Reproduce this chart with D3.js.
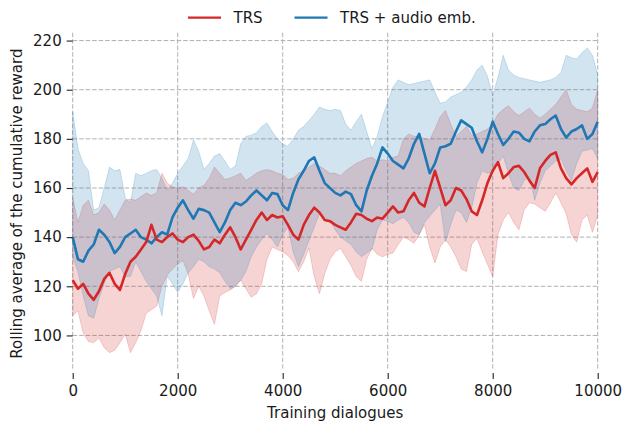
<!DOCTYPE html>
<html>
<head>
<meta charset="utf-8">
<script src="https://cdn.jsdelivr.net/npm/d3@7"></script>
<style>
  body { margin: 0; background: #fff; }
  svg text { font-family: "DejaVu Sans", sans-serif; fill: #1a1a1a; }
</style>
</head>
<body>
<div id="chart"></div>
<script>
// x positions: one reading every 100 training dialogues
const dialogues = d3.range(0, 10001, 100);

const trsMean = [
  122.5,119,121,117,114.5,118,123,125.5,121,118.5,
  125,130,132,135,138,145,139,138,140,141.5,
  139,138,140,141,138.5,135,136,139,137.5,141,
  144,140,135,139,143,147,150,147,149,148,
  148.5,145,141,139,145,149,152,150,147,146.5,
  145,144,143,146,149.5,149,147.5,146.5,148,147.5,
  150,152.5,150,150.5,155,158,154,152.5,160,167,
  160,153,155,160,159,155.5,150.5,149,155,162,
  167,170.5,164,166,168.5,169,166.5,163,160,168,
  171,173.5,174.5,168,164,161.5,164,166,168,162.5,
  166.5
];
const trsUpper = [
  156,146,153,155,149,150,153.5,151,147,151,
  155,155.5,155,156.5,158,157,158,166,162,160.5,
  160,160.5,159,157.5,160,161,164,168.5,166,163.5,
  164,165,166,163,164.5,166,167,167.5,167,166,
  165.5,163.5,164,166,167,168.5,170,169,167.5,166,
  166,165,167,168.5,170,171,172,172.5,171,171.5,
  171,172.5,173,180,182,181,181,180,179.5,184,
  189,191.5,186,181,183,185,181.5,182,183,184,
  186,190,192,193.5,191,189.5,191,192.5,190,188.5,
  190,192,194,197,200,194,192,191.5,191,192.5,
  200
];
const trsLower = [
  108,110,101,97.5,97,99,95,93,94,97,
  100.5,93,97,102,109,110.5,112,120,124.5,127,
  129,130.5,125,115,120,116,110,104.5,116,117.5,
  118.5,120,122.5,119,115.5,117,121,131,136,135,
  134,132.5,130,126,130,135.5,124,117,125,131,
  134,135.5,132,128.5,124,122,131,135.5,133,132,
  133,133.5,137,140,139,137.5,141,145,136,129.5,
  136,139,136,132,127,126,137,139.5,134,129,
  124,141,147,150,146,143,151,154,153.5,152,
  150.5,154,158,154,149.5,141,138,147,149,142,
  149
];

const audioMean = [
  140,131,130,134.5,137,143,141,138,133.5,136,
  140,141.5,143,140,139,137.5,140,142,141,148,
  152,155,151,147.5,151.5,151,150,146,142,146,
  151,154,153,154.5,157,159,157,155,158,157.5,
  153,151,158,163.5,167,171,172.5,167,162,160,
  158,157,158.5,157.5,153,150.5,159,165,170,176.5,
  174,171,169.5,168,172,178,182,174,166,170,
  176.5,177,178,183,187.5,186,184.5,179,174.5,180,
  187,182,177.5,180,183,182.5,180,179,183,185.5,
  186,188,189.5,184,180.5,183,184,185.5,180,182,
  187
];
const audioUpper = [
  191,176,170,167,151,152,160,168.5,167,167.5,
  156,154,166,165,166,167,167.5,164,159,162,
  166,169,172,179.5,175,167.5,170,173,174,171,
  167.5,169,178,181,181.5,182.5,185,186.5,183,180,
  178,177,180,183.5,185,187.5,190,193,192,191.5,
  192,191.5,186,183.5,187,190,183,176,181,189,
  195,201,204,203,202,202.5,203,203.5,204,199,
  194.5,195,197,198,199,201,204,208,210,205.5,
  197.5,205,214,208,206,205,204.5,204,203.5,203,
  203.5,204,205,207,214,213,212.5,215,217,214,
  206
];
const audioLower = [
  132,126,116,108,107,115,121,126,127,128,
  124,124,130,126,122,119,116,108,124,121,
  117.5,121,125.5,128,131,130,128,127,125.5,122,
  119,120,122.5,126,132,136,139,141.5,139,136,
  141,144,134,128,133,138.5,144,149.5,148,147,
  143,140,138.5,137,134,132,133.5,135,143,147,
  146.5,145.5,147,148,146,142,141,146,148.5,151,
  153.5,138,145,151,150,146,152,162,167,166,
  166.5,170,173,166,160,159,163,165,155,162,
  167,169,171,172,167,163,170,175,175.5,176,
  172
];

const xTicks = [0, 2000, 4000, 6000, 8000, 10000];
const yTicks = [100, 120, 140, 160, 180, 200, 220];

const seriesNames = ['TRS', 'TRS + audio emb.'];
const seriesColors = ['#d62728', '#1f77b4'];

const width = 624, height = 423;
const plotLeft = 72.7, plotRight = 597.7, plotTop = 32.7, plotBottom = 368.6;

const svg = d3.select('#chart').append('svg')
  .attr('width', width)
  .attr('height', height);

const x = d3.scaleLinear().domain([0, 10000]).range([plotLeft, plotRight]);
const y = d3.scaleLinear().domain([86.5, 223.2]).range([plotBottom, plotTop]);

// grid
const grid = svg.append('g');
grid.selectAll('line.h').data(yTicks).enter().append('line')
  .attr('class', 'h')
  .attr('x1', plotLeft).attr('x2', plotRight)
  .attr('y1', d => y(d)).attr('y2', d => y(d));
grid.selectAll('line.v').data(xTicks).enter().append('line')
  .attr('class', 'v')
  .attr('x1', d => x(d)).attr('x2', d => x(d))
  .attr('y1', plotTop).attr('y2', plotBottom);
grid.selectAll('line')
  .attr('stroke', '#b0b0b0')
  .attr('stroke-width', 1)
  .attr('stroke-dasharray', '4.5,2');

function band(lower, upper) {
  return dialogues.map((d, i) => ({ x: d, lo: lower[i], hi: upper[i] }));
}
function series(vals) {
  return dialogues.map((d, i) => ({ x: d, v: vals[i] }));
}

const area = d3.area().x(d => x(d.x)).y0(d => y(d.lo)).y1(d => y(d.hi));
const line = d3.line().x(d => x(d.x)).y(d => y(d.v));

const bands = [band(trsLower, trsUpper), band(audioLower, audioUpper)];
bands.forEach((b, i) => {
  svg.append('path')
    .datum(b)
    .attr('d', area)
    .attr('fill', seriesColors[i])
    .attr('fill-opacity', 0.2)
    .attr('stroke', seriesColors[i])
    .attr('stroke-opacity', 0.2)
    .attr('stroke-width', 1);
});

const means = [series(trsMean), series(audioMean)];
[1, 0].forEach(i => {
  svg.append('path')
    .datum(means[i])
    .attr('d', line)
    .attr('fill', 'none')
    .attr('stroke', seriesColors[i])
    .attr('stroke-width', 2.6)
    .attr('stroke-linejoin', 'round');
});

// axes without spines
const xAxis = svg.append('g')
  .attr('transform', 'translate(0,373)')
  .call(d3.axisBottom(x).tickValues(xTicks).tickSize(6).tickPadding(6).tickFormat(d3.format('d')));
const yAxis = svg.append('g')
  .attr('transform', `translate(${plotLeft},0)`)
  .call(d3.axisLeft(y).tickValues(yTicks).tickSize(6).tickPadding(5));
[xAxis, yAxis].forEach(a => {
  a.select('.domain').remove();
  a.selectAll('.tick line').attr('stroke', '#222').attr('stroke-width', 1.1);
  a.selectAll('.tick text').attr('font-size', 15).attr('fill', '#1a1a1a')
    .attr('font-family', '"DejaVu Sans", sans-serif');
});

svg.append('text')
  .attr('x', (plotLeft + plotRight) / 2)
  .attr('y', 418)
  .attr('text-anchor', 'middle')
  .attr('font-size', 15)
  .text('Training dialogues');

svg.append('text')
  .attr('transform', `translate(22,${(plotTop + plotBottom) / 2 + 3}) rotate(-90)`)
  .attr('text-anchor', 'middle')
  .attr('font-size', 15)
  .text('Rolling average of the cumulative reward');

// legend
const legendX = [188, 294.5];
const legend = svg.append('g');
seriesNames.forEach((name, i) => {
  legend.append('line')
    .attr('x1', legendX[i]).attr('x2', legendX[i] + 33)
    .attr('y1', 17.7).attr('y2', 17.7)
    .attr('stroke', seriesColors[i])
    .attr('stroke-width', 2.3);
  legend.append('text')
    .attr('x', legendX[i] + 45.5)
    .attr('y', 23)
    .attr('font-size', 15)
    .text(name);
});
</script>
</body>
</html>
